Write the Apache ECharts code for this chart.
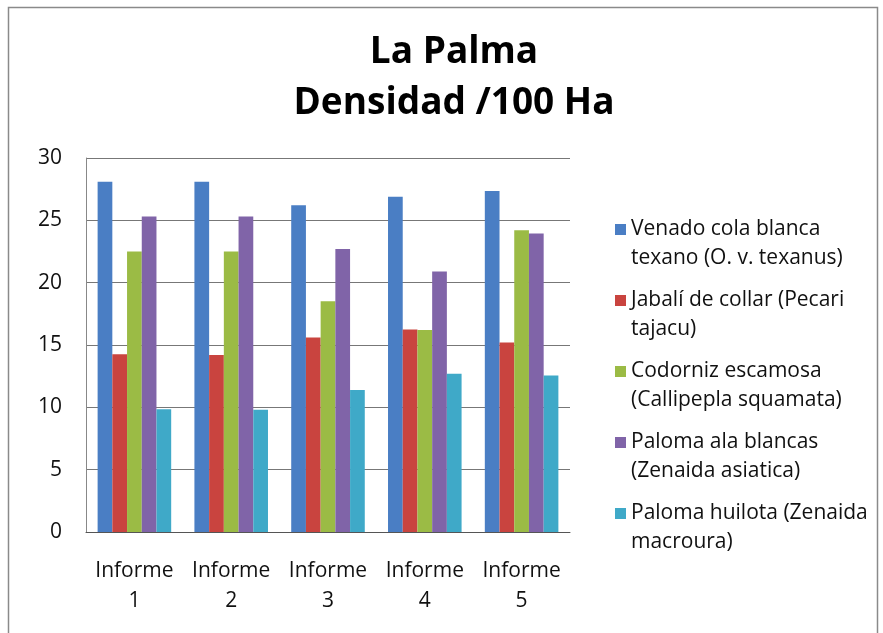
<!DOCTYPE html>
<html><head><meta charset="utf-8">
<script src="https://cdn.jsdelivr.net/npm/echarts@6/dist/echarts.min.js"></script>
<style>html,body{margin:0;padding:0;background:#fff}#c{width:883px;height:633px}</style>
</head><body><div id="c"></div>
<script>
const categories = ['Informe\n1','Informe\n2','Informe\n3','Informe\n4','Informe\n5'];
const seriesNames = ['Venado cola blanca texano (O. v. texanus)','Jabalí de collar (Pecari tajacu)','Codorniz escamosa (Callipepla squamata)','Paloma ala blancas (Zenaida asiatica)','Paloma huilota (Zenaida macroura)'];
const legendLines = [['Venado cola blanca','texano (O. v. texanus)'],['Jabalí de collar (Pecari','tajacu)'],['Codorniz escamosa','(Callipepla squamata)'],['Paloma ala blancas','(Zenaida asiatica)'],['Paloma huilota (Zenaida','macroura)']];
const venado = [28.1, 28.1, 26.2, 26.9, 27.35];
const jabali = [14.25, 14.2, 15.6, 16.25, 15.2];
const codorniz = [22.5, 22.5, 18.5, 16.2, 24.2];
const palomaAla = [25.3, 25.3, 22.7, 20.9, 23.95];
const huilota = [9.85, 9.8, 11.4, 12.7, 12.55];
const yTicks = [0,5,10,15,20,25,30];
const colors = ['#4A7EC4','#C9443F','#9BBB45','#8064A8','#3FA9C8'];
const values = [venado, jabali, codorniz, palomaAla, huilota];
const font = '"Open Sans", Lato, sans-serif';

const chart = echarts.init(document.getElementById('c'), null, {renderer:'canvas'});
chart.setOption({
  animation:false,
  backgroundColor:'#fff',
  title:{text:'La Palma\nDensidad /100 Ha', left:449, top:22, textAlign:'center',
    textStyle:{fontFamily:font, fontWeight:'bold', fontSize:37, lineHeight:51, color:'#000'}},
  graphic:[{type:'rect', shape:{x:8.5,y:7.5,width:869,height:640}, style:{fill:'none', stroke:'#8a8a8a', lineWidth:1.5}, silent:true}],
  legend: seriesNames.map((n,i)=>({
    data:[n], orient:'vertical', left:610, top:181+i*71,
    itemWidth:11, itemHeight:11, icon:'rect', selectedMode:false,
    formatter:()=>'\n'+legendLines[i][0]+'\n'+legendLines[i][1],
    textStyle:{fontFamily:font, fontSize:21, lineHeight:29, color:'#111'}
  })),
  grid:{left:86, right:313, top:158, bottom:101},
  xAxis:{type:'category', data:categories,
    axisLine:{lineStyle:{color:'#555'}}, axisTick:{show:false},
    axisLabel:{fontFamily:font, fontSize:21, lineHeight:30, color:'#111', margin:24, interval:0, hideOverlap:false}},
  yAxis:{type:'value', min:0, max:30, interval:5,
    axisLine:{show:true, lineStyle:{color:'#888'}}, axisTick:{show:false},
    splitLine:{lineStyle:{color:'#777', width:1}},
    axisLabel:{fontFamily:font, fontSize:21, color:'#111', margin:24,
      formatter:v=>yTicks.includes(v)?String(v):''}},
  series: seriesNames.map((n,i)=>({
    name:n, type:'bar', data:values[i], barGap:'0%', barCategoryGap:'24%',
    itemStyle:{color:colors[i]}
  }))
});
</script></body></html>
